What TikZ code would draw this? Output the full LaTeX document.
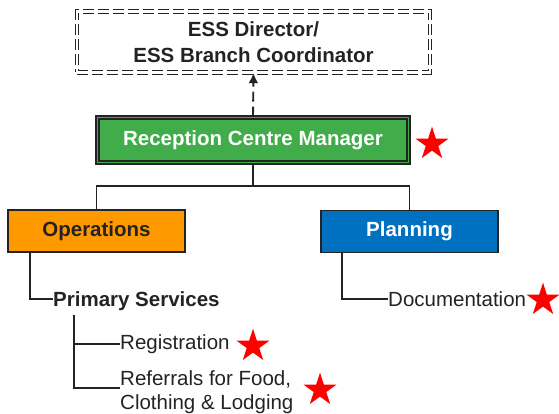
\documentclass[tikz,border=0pt]{standalone}
\usepackage{fontspec}
\setmainfont{Liberation Sans}
\usetikzlibrary{arrows.meta,shapes.geometric}
\definecolor{mgrgreen}{RGB}{64,172,74}
\definecolor{opsorange}{RGB}{255,153,0}
\definecolor{planblue}{RGB}{0,112,192}
\definecolor{ink}{RGB}{35,35,35}
\begin{document}
\begin{tikzpicture}[x=1pt,y=-1pt,
  every node/.style={font=\fontsize{20.5}{24}\selectfont, text=ink},
  conn/.style={draw=ink, line width=1.9pt},
  deptbox/.style={draw=ink, line width=1.8pt, minimum width=177pt, minimum height=42pt, inner sep=0, font=\fontsize{20.5}{24}\selectfont\bfseries},
  leaf/.style={anchor=base west, inner sep=0},
  redstar/.style={star, star points=5, star point ratio=2.618, fill=red, draw=none, minimum size=34.6pt, inner sep=0}
]
\useasboundingbox (0,0) rectangle (559,414);
\node[draw=ink, double=white, double distance=2.2pt, line width=1.3pt, dash pattern=on 11pt off 4pt,
  minimum width=353pt, minimum height=61pt, inner sep=0, align=center,
  font=\fontsize{20.5}{26}\selectfont\bfseries] (dir) at (253.5,42) {ESS Director/\\ESS Branch Coordinator};
\node[draw=ink, double=mgrgreen, fill=mgrgreen, line width=1.8pt, double distance=1.2pt,
  minimum width=311pt, minimum height=45pt, inner sep=0, text=white,
  font=\fontsize{20.5}{24}\selectfont\bfseries] (mgr) at (253,140) {Reception Centre Manager};
\node[deptbox, fill=opsorange] (ops) at (96.5,231) {Operations};
\node[deptbox, fill=planblue, text=white] (plan) at (409.5,231.5) {Planning};

\draw[conn, dash pattern=on 10pt off 5pt, -{Latex[length=10pt,width=10pt]}] (mgr.north) -- (dir.south);
\draw[conn] (mgr.south) -- ++(0,23) coordinate (jn);
\draw[conn] (ops.north) |- (jn) -| (plan.north);

\node[leaf, font=\fontsize{20.5}{24}\selectfont\bfseries] (ps) at (53,306) {Primary Services};
\node[leaf] (reg) at (120,349) {Registration};
\node[leaf, align=left] (ref) at (120,409) {Referrals for Food,\\Clothing \& Lodging};
\node[leaf] (doc) at (388,306) {Documentation};

\draw[conn] ([xshift=23pt]ops.south west) |- ([yshift=7pt]ps.base west);
\draw[conn] ([xshift=21pt,yshift=-9pt]ps.base west) |- ([yshift=5pt]reg.base west);
\draw[conn] ([xshift=21pt,yshift=-9pt]ps.base west) |- ([yshift=21pt]ref.base west);
\draw[conn] ([xshift=22pt]plan.south west) |- ([yshift=7pt]doc.base west);

\node[redstar] (s1) at (432,144) {};
\node[redstar] (s2) at (253,346) {};
\node[redstar] (s3) at (320,390) {};
\node[redstar] (s4) at (543,300) {};
\end{tikzpicture}
\end{document}
